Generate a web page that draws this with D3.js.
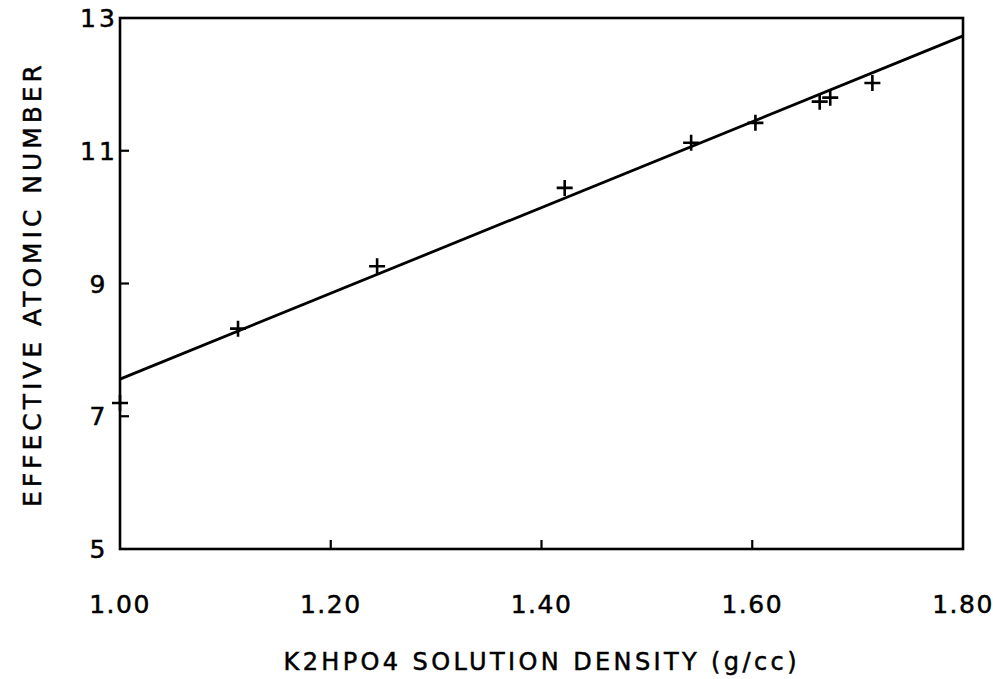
<!DOCTYPE html>
<html>
<head>
<meta charset="utf-8">
<script src="https://cdn.jsdelivr.net/npm/d3@7"></script>
<style>
  html, body { margin: 0; padding: 0; background: #fff; }
  svg { display: block; }
  text { font-family: "DejaVu Sans", "Liberation Sans", Arial, sans-serif; fill: #000; stroke: #000; stroke-width: 0.5px; }
</style>
</head>
<body>
<svg id="chart" width="993" height="679"></svg>
<script>
// Measured density vs. effective atomic number
const density = [1.00, 1.112, 1.244, 1.422, 1.542, 1.603, 1.664, 1.674, 1.714];
const zeff    = [7.20, 8.32, 9.26, 10.44, 11.12, 11.42, 11.74, 11.80, 12.02];

// Fitted straight line (endpoints)
const fitX = [1.00, 1.80];
const fitY = [7.56, 12.73];

const xTicks = [1.00, 1.20, 1.40, 1.60, 1.80];
const xTickLabels = ["1.00", "1.20", "1.40", "1.60", "1.80"];
const yTicks = [5, 7, 9, 11, 13];
const yTickLabels = ["5", "7", "9", "11", "13"];

const xTitle = "K2HPO4 SOLUTION DENSITY (g/cc)";
const yTitle = "EFFECTIVE ATOMIC NUMBER";

const svg = d3.select("#chart");
const plotLeft = 120, plotRight = 963, plotTop = 18, plotBottom = 549;

const x = d3.scaleLinear().domain([1.0, 1.8]).range([plotLeft, plotRight]);
const y = d3.scaleLinear().domain([5, 13]).range([plotBottom, plotTop]);

// Frame
svg.append("rect")
  .attr("x", plotLeft).attr("y", plotTop)
  .attr("width", plotRight - plotLeft).attr("height", plotBottom - plotTop)
  .attr("fill", "none").attr("stroke", "#000").attr("stroke-width", 2.6);

// Inward ticks on the bottom and left edges (interior values only)
const tickLen = 9;
svg.append("g").selectAll("line")
  .data(xTicks.slice(1, -1))
  .join("line")
  .attr("x1", d => x(d)).attr("x2", d => x(d))
  .attr("y1", plotBottom).attr("y2", plotBottom - tickLen)
  .attr("stroke", "#000").attr("stroke-width", 2.2);

svg.append("g").selectAll("line")
  .data(yTicks.slice(1, -1))
  .join("line")
  .attr("x1", plotLeft).attr("x2", plotLeft + tickLen)
  .attr("y1", d => y(d)).attr("y2", d => y(d))
  .attr("stroke", "#000").attr("stroke-width", 2.2);

// Tick labels
svg.append("g").selectAll("text")
  .data(xTicks)
  .join("text")
  .attr("x", d => x(d))
  .attr("y", 613)
  .attr("text-anchor", "middle")
  .attr("font-size", 25)
  .attr("letter-spacing", 1.5)
  .text((d, i) => xTickLabels[i]);

svg.append("g").selectAll("text")
  .data(yTicks)
  .join("text")
  .attr("x", 99)
  .attr("y", d => y(d) + 9)
  .attr("text-anchor", "middle")
  .attr("font-size", 25)
  .attr("letter-spacing", 3)
  .text((d, i) => yTickLabels[i]);

// Axis titles
svg.append("text")
  .attr("x", 540).attr("y", 670)
  .attr("text-anchor", "middle")
  .attr("font-size", 24)
  .attr("textLength", 513)
  .attr("lengthAdjust", "spacing")
  .text(xTitle);

svg.append("text")
  .attr("transform", "translate(41,286) rotate(-90)")
  .attr("text-anchor", "middle")
  .attr("font-size", 25)
  .attr("textLength", 442)
  .attr("lengthAdjust", "spacing")
  .text(yTitle);

// Fit line
const line = d3.line().x(d => x(d[0])).y(d => y(d[1]));
svg.append("path")
  .datum(fitX.map((v, i) => [v, fitY[i]]))
  .attr("d", line)
  .attr("fill", "none")
  .attr("stroke", "#000")
  .attr("stroke-width", 2.8);

// Data markers (+)
const arm = 8;
const pts = density.map((d, i) => [d, zeff[i]]);
const marks = svg.append("g");
marks.selectAll("path")
  .data(pts)
  .join("path")
  .attr("d", d => {
    const cx = x(d[0]), cy = y(d[1]);
    return `M${cx - arm},${cy}H${cx + arm}M${cx},${cy - arm}V${cy + arm}`;
  })
  .attr("stroke", "#000")
  .attr("stroke-width", 2.6)
  .attr("fill", "none");
</script>
</body>
</html>
